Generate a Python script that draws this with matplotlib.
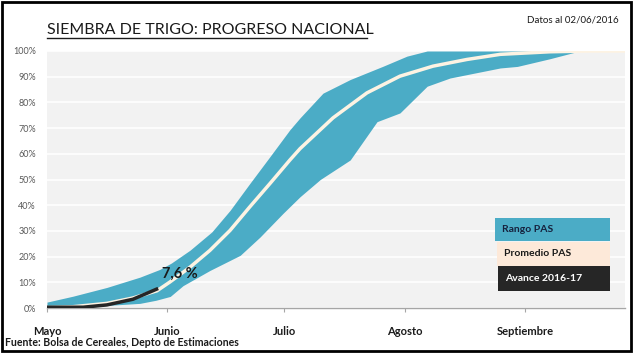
import matplotlib
matplotlib.use("Agg")
import matplotlib.pyplot as plt
from matplotlib.patches import Rectangle
from matplotlib.lines import Line2D
import numpy as np

# ---- data (day of season since 1 May, % planted) ----
upper_days = [0, 6.7, 15.4, 23.9, 29, 32, 36.8, 42.4, 47.1, 52.2, 57.4, 62.5, 65.1, 71, 78, 86.5, 92.6, 97.8, 148.7]
upper_vals = [2.3, 4.6, 8.0, 12.0, 15.0, 17.5, 22.5, 29.6, 38, 48.5, 59, 69.4, 74, 83.6, 88.9, 94.1, 98, 100, 100]

lower_days = [0, 9.3, 15.4, 23.9, 28, 31.7, 35, 41.9, 49.7, 54.8, 60.7, 65.1, 70.3, 78, 84.9, 90.8, 97.8, 103.7, 116.6, 121, 129.4, 137, 148.7]
lower_vals = [0, 0, 1, 1.8, 3, 4.5, 8.7, 14.6, 20.5, 27.6, 36.8, 43.3, 50, 57.6, 72.5, 75.9, 86.3, 89.5, 93.4, 94, 97, 100, 100]

mean_days = [0, 6.7, 15.4, 22.1, 28.3, 31.7, 36.8, 41.9, 47.1, 52.2, 57.4, 62.5, 65.1, 73.6, 82.3, 90.8, 99.3, 108, 116.6, 129.4, 140, 148.7]
mean_vals = [0.2, 0.5, 1.8, 3.9, 6.7, 10.2, 15.9, 22.4, 30.2, 39.4, 48.5, 57.6, 62, 74, 83.7, 90.2, 94.1, 96.7, 98.7, 99.7, 100, 100]

avance_days = [0, 9.3, 15.4, 22.1, 28.6]
avance_vals = [0.3, 0.3, 1.2, 3.4, 7.6]

month_days = [0, 31, 61, 92, 123]
month_labels = ["Mayo", "Junio", "Julio", "Agosto", "Septiembre"]
y_ticks = [0, 10, 20, 30, 40, 50, 60, 70, 80, 90, 100]

FONT = ["Lato", "DejaVu Sans"]
plt.rcParams["font.family"] = FONT

W, H = 640, 356
fig = plt.figure(figsize=(6.4, 3.56), dpi=100)
fig.patch.set_facecolor("white")

def fx(px):
    return px / W
def fy(py):
    return 1 - py / H

ax = fig.add_axes([fx(47), fy(308), fx(625) - fx(47), fy(51) - fy(308)])
ax.set_facecolor("#f2f2f2")

grid = np.union1d(np.union1d(upper_days, lower_days), mean_days)
up = np.interp(grid, upper_days, upper_vals)
lo = np.interp(grid, lower_days, lower_vals)
ax.fill_between(grid, lo, up, color="#4bacc6", lw=0, zorder=2)
ax.plot(mean_days, mean_vals, color="#fdf3e3", lw=2.5, zorder=3,
        solid_capstyle="butt", solid_joinstyle="round")
ax.plot(avance_days, avance_vals, color="#262626", lw=2.5, zorder=4,
        solid_capstyle="butt", solid_joinstyle="round")

ax.text(avance_days[-1] + 5.5, 13.5, "7,6 %", fontsize=10.5, fontweight="bold",
        color="#1a1a1a", ha="center", va="center", zorder=5)

ax.set_xlim(0, 148.7)
ax.set_ylim(0, 100)
ax.set_yticks(y_ticks)
ax.set_yticklabels([f"{v}%" for v in y_ticks], fontsize=6.5, color="#595959")
ax.set_xticks(month_days)
ax.set_xticklabels(month_labels, fontsize=8, fontweight="bold", color="#1a1a1a")
ax.yaxis.grid(True, color="white", lw=1.2, zorder=1)
ax.set_axisbelow(True)
for s in ["top", "right", "left"]:
    ax.spines[s].set_visible(False)
ax.spines["bottom"].set_color("#a6a6a6")
ax.spines["bottom"].set_linewidth(1.0)
ax.tick_params(axis="y", length=0, pad=8)
ax.tick_params(axis="x", length=3, color="#a6a6a6", pad=10)

def box(x0, y0, x1, y1, fc, label, tc):
    fig.add_artist(Rectangle((fx(x0), fy(y1)), fx(x1) - fx(x0), fy(y0) - fy(y1),
                             transform=fig.transFigure, facecolor=fc, edgecolor="none", zorder=10))
    fig.text(fx(x0 + 7), fy((y0 + y1) / 2), label, fontsize=7.5, fontweight="bold",
             color=tc, ha="left", va="center", zorder=11)

box(495, 218, 610, 241, "#4bacc6", "Rango PAS", "#16213d")
box(497, 242, 610, 266, "#fde9d9", "Promedio PAS", "#1a1a1a")
box(498, 266, 610, 291, "#262626", "Avance 2016-17", "white")

fig.text(fx(47), fy(34), "SIEMBRA DE TRIGO: PROGRESO NACIONAL", fontsize=11.5,
         color="#1a1a1a", ha="left", va="baseline")
fig.add_artist(Line2D([fx(47), fx(367)], [fy(37.5), fy(37.5)], color="#1a1a1a", lw=1,
                      transform=fig.transFigure))
fig.text(fx(619), fy(20), "Datos al 02/06/2016", fontsize=7, color="#1a1a1a",
         ha="right", va="center")
fig.text(fx(5), fy(342), "Fuente: Bolsa de Cereales, Depto de Estimaciones", fontsize=7.6,
         fontweight="bold", color="#1a1a1a", ha="left", va="center")

fig.add_artist(Rectangle((fx(2), fy(351)), fx(631) - fx(2), fy(1.5) - fy(351),
                         transform=fig.transFigure, facecolor="none", edgecolor="black",
                         lw=2, zorder=20))

fig.savefig("out.png", dpi=100)
